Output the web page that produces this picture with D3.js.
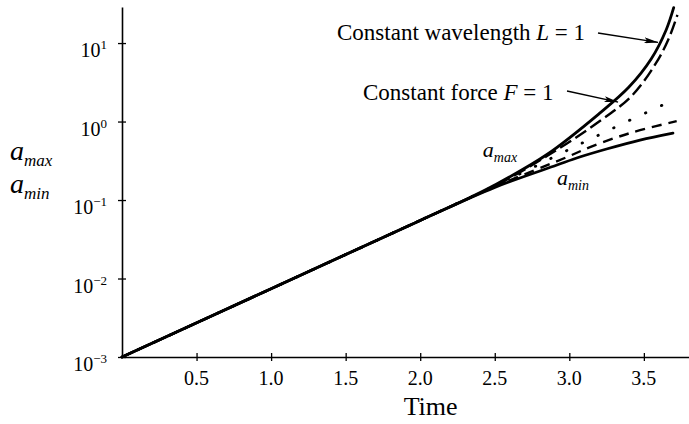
<!DOCTYPE html>
<html>
<head>
<meta charset="utf-8">
<script src="https://cdn.jsdelivr.net/npm/d3@7"></script>
<style>
  html, body { margin: 0; padding: 0; background: #fff; }
  svg text { font-family: "Liberation Serif", "DejaVu Serif", serif; fill: #000; }
</style>
</head>
<body>
<div id="graph"></div>
<script>
const width = 689;
const height = 424;

// time vs amplitude (log scale)
const wavelengthT = [0, 1.0, 2.0, 2.3, 2.5, 2.85, 3.2, 3.4, 3.55, 3.65, 3.7];
const wavelengthA = [0.001, 0.00741, 0.055, 0.1, 0.155, 0.38, 1.26, 2.75, 6.31, 14.8, 28.2];

const forceT = [0, 1.0, 2.0, 2.3, 2.5, 2.85, 3.2, 3.42, 3.58, 3.665, 3.725];
const forceA = [0.001, 0.00741, 0.055, 0.1, 0.15, 0.363, 1.0, 2.14, 5.5, 11.2, 22.9];

const dottedT = [0, 1.0, 2.0, 2.72, 2.95, 3.17, 3.41, 3.655];
const dottedA = [0.001, 0.00741, 0.055, 0.24, 0.398, 0.635, 1.05, 1.72];

const dashedT = [0, 1.0, 2.0, 2.5, 2.985, 3.139, 3.32, 3.474, 3.72];
const dashedA = [0.001, 0.00741, 0.055, 0.148, 0.353, 0.473, 0.631, 0.776, 1.01];

const minT = [0, 1.0, 2.0, 2.5, 2.917, 3.07, 3.25, 3.474, 3.695];
const minA = [0.001, 0.00741, 0.055, 0.145, 0.279, 0.353, 0.447, 0.581, 0.713];

const xTicks = [0.5, 1.0, 1.5, 2.0, 2.5, 3.0, 3.5];
const xTickLabels = ["0.5", "1.0", "1.5", "2.0", "2.5", "3.0", "3.5"];
const yTicks = [1e-3, 1e-2, 1e-1, 1, 10];
const yTickExp = ["\u22123", "\u22122", "\u22121", "0", "1"];

const svg = d3.select("#graph").append("svg")
  .attr("width", width)
  .attr("height", height);

const x = d3.scaleLinear().domain([0, 3.8]).range([122, 688.6]);
const y = d3.scaleLog().domain([1e-3, 28.8]).range([357, 7]);

const toPoints = (ts, as) => ts.map((t, i) => ({ t, a: as[i] }));

const line = d3.line()
  .x(d => x(d.t))
  .y(d => y(d.a))
  .curve(d3.curveCatmullRom.alpha(0.5));

// curves (dashed ones first so the solids sit on top where they overlap)
const series = [
  { pts: toPoints(dottedT, dottedA), dash: "0.5,17", w: 2.8, cap: "round" },
  { pts: toPoints(dashedT, dashedA), dash: "10,7", w: 2.4, cap: "butt" },
  { pts: toPoints(forceT, forceA), dash: "13,5", w: 2.4, cap: "butt" },
  { pts: toPoints(minT, minA), dash: null, w: 2.8, cap: "round" },
  { pts: toPoints(wavelengthT, wavelengthA), dash: null, w: 2.8, cap: "round" }
];

series.forEach(s => {
  svg.append("path")
    .datum(s.pts)
    .attr("fill", "none")
    .attr("stroke", "#000")
    .attr("stroke-width", s.w)
    .attr("stroke-linecap", s.cap)
    .attr("stroke-dasharray", s.dash)
    .attr("d", line);
});

// axes
const xAxis = svg.append("g")
  .attr("transform", `translate(0,${y(1e-3)})`)
  .call(d3.axisBottom(x).tickValues(xTicks).tickSize(4).tickSizeOuter(0).tickFormat(""));
xAxis.selectAll(".tick line").attr("y1", -4).attr("stroke-width", 1.3);
xAxis.select("path.domain").attr("stroke-width", 1.6);

const yAxis = svg.append("g")
  .attr("transform", `translate(${x(0)},0)`)
  .call(d3.axisLeft(y).tickValues(yTicks).tickSize(4).tickSizeOuter(0).tickFormat(""));
yAxis.selectAll(".tick line").attr("x1", 4).attr("stroke-width", 1.3);
yAxis.select("path.domain").attr("stroke-width", 1.6);

// tick labels
svg.selectAll(".xlab")
  .data(xTicks)
  .join("text")
  .attr("class", "xlab")
  .attr("x", d => x(d))
  .attr("y", y(1e-3) + 28)
  .attr("text-anchor", "middle")
  .attr("font-size", 20)
  .text((d, i) => xTickLabels[i]);

const ylab = svg.selectAll(".ylab")
  .data(yTicks)
  .join("text")
  .attr("class", "ylab")
  .attr("x", x(0) - 15)
  .attr("y", d => y(d) + 14)
  .attr("text-anchor", "end")
  .attr("font-size", 20);
ylab.append("tspan").text("10");
ylab.append("tspan")
  .attr("dy", -8)
  .attr("font-size", 13)
  .text((d, i) => yTickExp[i]);

// axis titles
svg.append("text")
  .attr("x", x(2.07))
  .attr("y", 415)
  .attr("text-anchor", "middle")
  .attr("font-size", 26)
  .text("Time");

function subLabel(tx, ty, size, subSize, sub) {
  const t = svg.append("text")
    .attr("x", tx)
    .attr("y", ty)
    .attr("font-size", size)
    .attr("font-style", "italic");
  t.append("tspan").text("a");
  t.append("tspan").attr("dy", size * 0.22).attr("font-size", subSize).text(sub);
}

subLabel(10, 160, 28, 17, "max");
subLabel(10, 193, 28, 17, "min");

// curve labels
subLabel(x(2.42), y(0.353), 22, 14, "max");
subLabel(x(2.917), y(0.155), 22, 14, "min");

// annotations with arrows
svg.append("defs").append("marker")
  .attr("id", "head")
  .attr("viewBox", "0 0 14 6")
  .attr("refX", 14)
  .attr("refY", 3)
  .attr("markerWidth", 14)
  .attr("markerHeight", 6)
  .attr("markerUnits", "userSpaceOnUse")
  .attr("orient", "auto")
  .append("path")
  .attr("d", "M0,0 L14,3 L0,6 L3,3 Z")
  .attr("fill", "#000");

function note(tx, ty, parts, fromX, fromY, tipT, tipA) {
  const t = svg.append("text")
    .attr("x", tx)
    .attr("y", ty)
    .attr("font-size", 23);
  parts.forEach(p => {
    t.append("tspan").attr("font-style", p.i ? "italic" : null).text(p.s);
  });
  svg.append("line")
    .attr("x1", fromX)
    .attr("y1", fromY)
    .attr("x2", x(tipT))
    .attr("y2", y(tipA))
    .attr("stroke", "#000")
    .attr("stroke-width", 1.3)
    .attr("marker-end", "url(#head)");
}

note(337, 40, [{ s: "Constant wavelength " }, { s: "L", i: true }, { s: " = 1" }], 598, 33, 3.595, 10.2);
note(363, 100, [{ s: "Constant force " }, { s: "F", i: true }, { s: " = 1" }], 567, 91, 3.327, 1.77);
</script>
</body>
</html>
